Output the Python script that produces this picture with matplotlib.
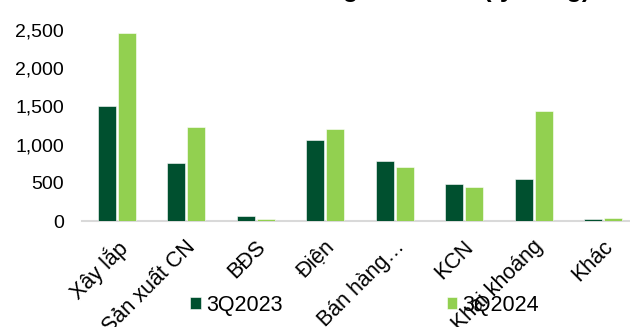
import matplotlib.pyplot as plt
from matplotlib.ticker import FuncFormatter
import matplotlib.transforms as mtransforms

plt.rcParams['font.family'] = ['Liberation Sans', 'DejaVu Sans']

categories = ['Xây lắp', 'Sản xuất CN', 'BĐS', 'Điện', 'Bán hàng…', 'KCN', 'Khai khoáng', 'Khác']
q3_2023 = [1500, 755, 60, 1055, 785, 480, 545, 30]
q3_2024 = [2460, 1230, 25, 1200, 710, 440, 1435, 35]
series_names = ['3Q2023', '3Q2024']

dark = '#00502F'
light = '#92D050'

fig = plt.figure(figsize=(6.3, 3.27), dpi=100)
ax = fig.add_axes([0.130, 0.324, 0.8825, 0.584])

x = range(len(categories))
w = 0.26
ax.bar([i - 0.145 for i in x], q3_2023, width=w, color=dark, edgecolor='white', linewidth=0.4,
       label=series_names[0], zorder=3)
ax.bar([i + 0.145 for i in x], q3_2024, width=w, color=light, edgecolor='white', linewidth=0.4,
       label=series_names[1], zorder=3)

ax.set_xlim(-0.5, len(categories) - 0.5)
ax.set_ylim(0, 2500)
ax.set_yticks([0, 500, 1000, 1500, 2000, 2500])
ax.yaxis.set_major_formatter(FuncFormatter(lambda v, p: f'{int(v):,}'))
ax.set_xticks(list(x))
ax.set_xticklabels(categories, rotation=45, ha='right', va='top', rotation_mode='anchor')
ax.tick_params(axis='both', length=0, colors='black')
ax.tick_params(axis='y', pad=13, labelsize=14)
ax.tick_params(axis='x', pad=11, labelsize=15.5)
shift = mtransforms.ScaledTranslation(-1 / 100, 0, fig.dpi_scale_trans)
for lab in ax.get_xticklabels():
    lab.set_transform(lab.get_transform() + shift)

for s in ['top', 'right', 'left']:
    ax.spines[s].set_visible(False)
ax.spines['bottom'].set_color('#d9d9d9')
ax.spines['bottom'].set_linewidth(1.5)
ax.spines['bottom'].set_zorder(1)

fig.legend(loc='center left', bbox_to_anchor=(0.302, 1 - 305 / 327), ncol=2, frameon=False,
           fontsize=15.5, handlelength=0.5, handleheight=0.5, handletextpad=0.25,
           columnspacing=7.6, borderpad=0, borderaxespad=0)

# title clipped at top of the source image
fig.text(-28 / 630, 1 + 2.5 / 327, 'Cơ cấu doanh thu theo nhóm ngành chính (tỷ đồng)',
         fontsize=18, fontweight='bold', va='baseline', ha='left')

fig.savefig('out.png', dpi=100)
